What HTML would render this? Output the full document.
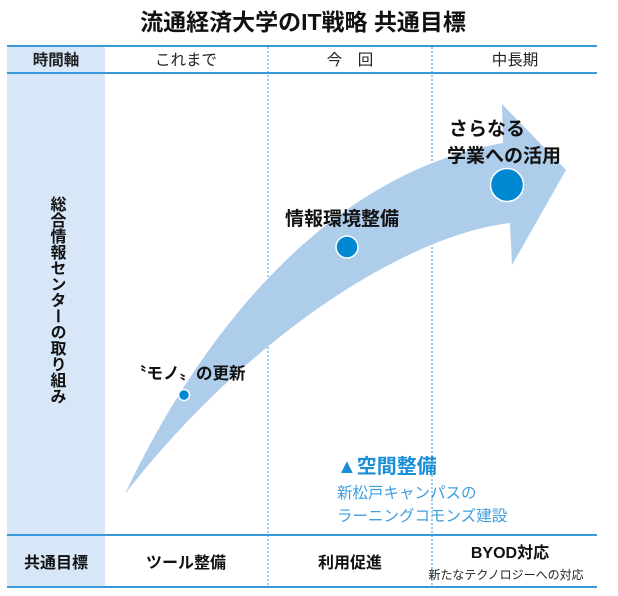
<!DOCTYPE html>
<html><head><meta charset="utf-8"><style>
body{margin:0;width:618px;height:596px;background:#fff;overflow:hidden;font-family:"Liberation Sans","Noto Sans CJK JP",sans-serif;}
svg{position:absolute;left:0;top:0}
</style></head><body>
<svg width="618" height="596" viewBox="0 0 618 596" font-family="Liberation Sans, Noto Sans CJK JP, sans-serif">
<rect x="7" y="47" width="98" height="540" fill="#d7e7f8"/>
<line x1="268" y1="47" x2="268" y2="587" stroke="#3a9ad9" stroke-width="1" stroke-dasharray="2,2"/>
<line x1="432" y1="47" x2="432" y2="587" stroke="#3a9ad9" stroke-width="1" stroke-dasharray="2,2"/>
<rect x="7" y="45" width="590" height="2" fill="#3a9ad9"/>
<rect x="7" y="72" width="590" height="2" fill="#3a9ad9"/>
<rect x="7" y="534" width="590" height="2" fill="#3a9ad9"/>
<rect x="7" y="586" width="590" height="2" fill="#3a9ad9"/>
<text x="303" y="30" text-anchor="middle" font-size="23" font-weight="bold" fill="#111">流通経済大学のIT戦略 共通目標</text>
<g font-size="15.5" text-anchor="middle" fill="#222">
<text x="56" y="65" font-weight="bold">時間軸</text>
<text x="186" y="65">これまで</text>
<text x="350" y="65">今　回</text>
<text x="515" y="65">中長期</text>
</g>
<text x="56" y="196" font-size="16" font-weight="bold" fill="#111" style="writing-mode:vertical-rl">総合情報センターの取り組み</text>
<path d="M125,494 C195,345 320,175 503,143 L502,104 L566,170 L512,265 L510,223 C400,236 240,345 125,494 Z" fill="#aecdeb"/>
<circle cx="184" cy="395" r="5.5" fill="#0088d2" stroke="#fff" stroke-width="1.5"/>
<circle cx="347" cy="247" r="11" fill="#0088d2" stroke="#fff" stroke-width="1.5"/>
<circle cx="507" cy="185" r="16.5" fill="#0088d2" stroke="#fff" stroke-width="1.5"/>
<g font-size="19" font-weight="bold" fill="#111">
<text x="130" y="379" font-size="16.5">〝モノ〟の更新</text>
<text x="285" y="225">情報環境整備</text>
<text x="449" y="135">さらなる</text>
<text x="447" y="162">学業への活用</text>
</g>
<text x="337" y="473" font-size="20" font-weight="bold" fill="#1a8fd6">▲空間整備</text>
<text x="337" y="498" font-size="15.5" fill="#3d9ee0">新松戸キャンパスの</text>
<text x="337" y="521" font-size="15.5" fill="#3d9ee0">ラーニングコモンズ建設</text>
<g font-size="16" font-weight="bold" text-anchor="middle" fill="#111">
<text x="56" y="568">共通目標</text>
<text x="186" y="568">ツール整備</text>
<text x="350" y="568">利用促進</text>
<text x="510" y="558">BYOD対応</text>
</g>
<text x="506" y="579" font-size="12" text-anchor="middle" fill="#222">新たなテクノロジーへの対応</text>
</svg>
</body></html>
